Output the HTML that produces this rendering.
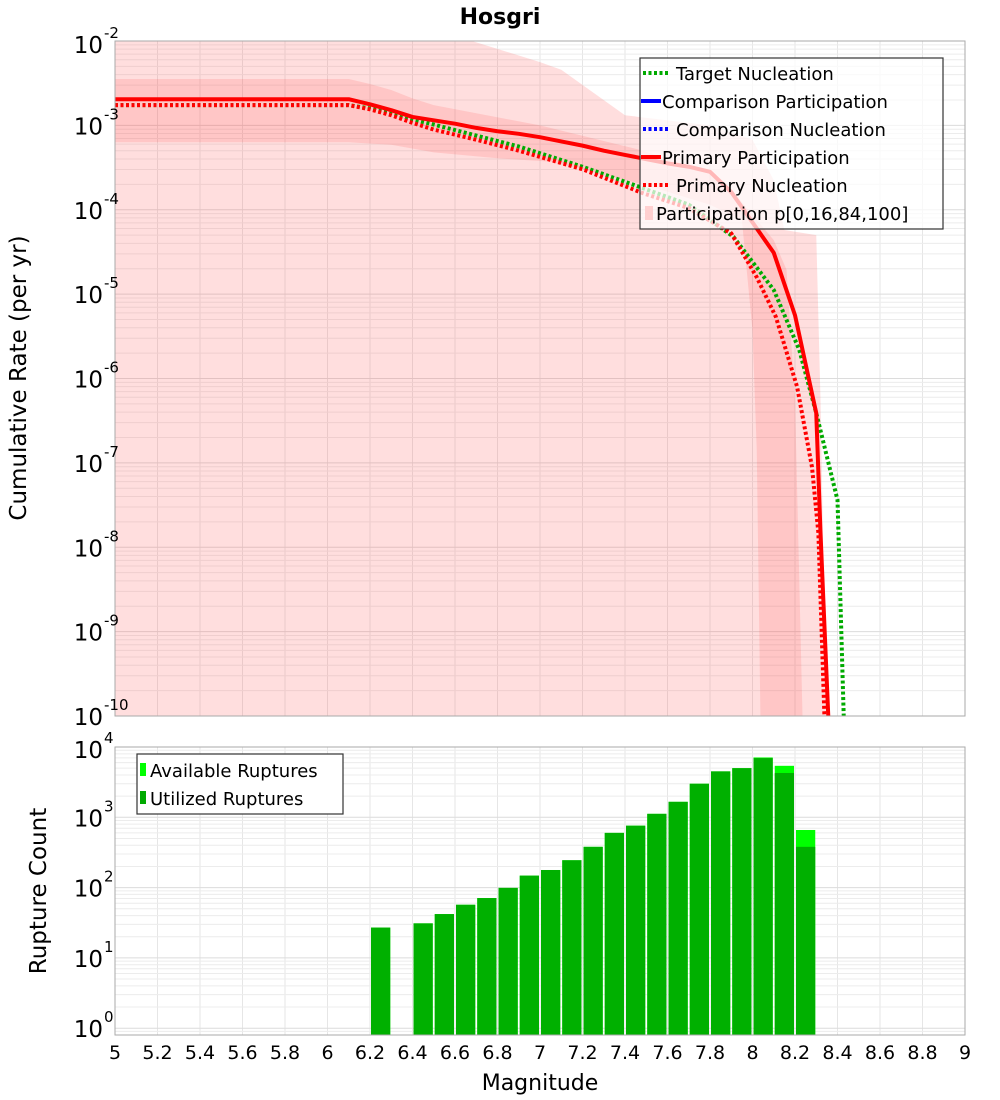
<!DOCTYPE html>
<html><head><meta charset="utf-8"><style>
html,body{margin:0;padding:0;background:#fff;}
svg{display:block;font-family:"DejaVu Sans","Liberation Sans",sans-serif;}
</style></head><body>
<svg id="chart" width="1000" height="1100" viewBox="0 0 1000 1100">
<defs>
<clipPath id="clipTop"><rect x="115" y="41" width="850" height="675"/></clipPath>
<clipPath id="clipBot"><rect x="115" y="747" width="850" height="288"/></clipPath>
</defs>
<text x="500" y="24" text-anchor="middle" font-size="22" font-weight="bold">Hosgri</text>
<rect x="115" y="41" width="850" height="675" fill="#fff"/>
<rect x="115" y="747" width="850" height="288" fill="#fff"/>
<g id="topGrid"></g><g id="topBands" clip-path="url(#clipTop)"></g><g id="topLines" clip-path="url(#clipTop)"></g>
<g id="botGrid"></g><g id="botBars" clip-path="url(#clipBot)"></g>
<rect x="115" y="41" width="850" height="675" fill="none" stroke="#aaa" stroke-width="1"/>
<rect x="115" y="747" width="850" height="288" fill="none" stroke="#aaa" stroke-width="1"/>
<g id="axes"></g>
<text transform="translate(26,378) rotate(-90)" text-anchor="middle" font-size="23">Cumulative Rate (per yr)</text>
<text transform="translate(46,891) rotate(-90)" text-anchor="middle" font-size="23">Rupture Count</text>
<text x="540" y="1090" text-anchor="middle" font-size="22">Magnitude</text>
<g>
<rect x="640" y="58" width="303" height="171" fill="rgba(255,255,255,0.72)" stroke="#333" stroke-width="1.2"/>
<line x1="643" y1="73" x2="669" y2="73" stroke="#00aa00" stroke-width="4" stroke-dasharray="3,2.5"/>
<text x="676" y="80" font-size="18">Target Nucleation</text>
<line x1="641" y1="101" x2="661" y2="101" stroke="#0000ff" stroke-width="4"/>
<text x="662" y="108" font-size="18">Comparison Participation</text>
<line x1="643" y1="129" x2="669" y2="129" stroke="#0000ff" stroke-width="4" stroke-dasharray="3,2.5"/>
<text x="676" y="136" font-size="18">Comparison Nucleation</text>
<line x1="641" y1="157" x2="661" y2="157" stroke="#ff0000" stroke-width="4"/>
<text x="662" y="164" font-size="18">Primary Participation</text>
<line x1="643" y1="185" x2="669" y2="185" stroke="#ff0000" stroke-width="4" stroke-dasharray="3,2.5"/>
<text x="676" y="192" font-size="18">Primary Nucleation</text>
<rect x="645" y="206" width="8" height="14" fill="#ffd0d0"/>
<text x="656" y="220" font-size="18">Participation p[0,16,84,100]</text>
</g>
<g>
<rect x="137" y="754" width="206" height="60" fill="#fff" stroke="#333" stroke-width="1.2"/>
<rect x="140" y="763" width="6" height="13" fill="#00ff00"/>
<text x="150" y="777" font-size="18">Available Ruptures</text>
<rect x="140" y="791" width="6" height="13" fill="#00aa00"/>
<text x="150" y="805" font-size="18">Utilized Ruptures</text>
</g>
</svg>
<script>
// ---- data ----
const partMags = [5.0,6.1,6.2,6.3,6.4,6.5,6.6,6.7,6.8,6.9,7.0,7.1,7.2,7.3,7.4,7.5,7.6,7.7,7.8,7.9,8.0,8.1,8.2,8.3,8.32,8.365];
const partLog  = [-2.69,-2.69,-2.75,-2.82,-2.90,-2.94,-2.98,-3.03,-3.07,-3.10,-3.14,-3.19,-3.24,-3.30,-3.35,-3.40,-3.45,-3.49,-3.55,-3.79,-4.15,-4.51,-5.25,-6.41,-7.83,-10.5];
const nuclMags = [5.0,6.1,6.2,6.3,6.4,6.5,6.7,6.9,7.05,7.2,7.48,7.7,7.9,8.02,8.11,8.21,8.28,8.31,8.345];
const nuclLog  = [-2.76,-2.76,-2.81,-2.88,-2.97,-3.05,-3.17,-3.30,-3.41,-3.52,-3.80,-3.98,-4.28,-4.80,-5.27,-6.10,-7.05,-7.83,-10.5];
const targMags = [5.0,6.1,6.2,6.3,6.4,6.5,6.7,6.9,7.05,7.2,7.48,7.7,7.91,8.1,8.22,8.3,8.4,8.435];
const targLog  = [-2.76,-2.76,-2.80,-2.85,-2.93,-2.99,-3.12,-3.25,-3.37,-3.49,-3.74,-3.94,-4.32,-4.95,-5.66,-6.41,-7.44,-10.5];
const outerMags  = [5.0,6.68,7.0,7.1,7.4,7.8,8.0,8.1,8.15,8.3,8.32,8.35];
const outerHiLog = [-1.5,-2.0,-2.25,-2.34,-2.88,-3.0,-3.17,-3.65,-4.24,-4.30,-6.25,-10.5];
const outerLoLog = [-10.5,-10.5,-10.5,-10.5,-10.5,-10.5,-10.5,-10.5,-10.5,-10.5,-10.5,-10.5];
const innerHiMags = [5.0,6.1,6.2,6.3,6.4,6.5,7.0,7.47,7.8,7.94,8.1,8.16,8.2,8.24];
const innerHiLog  = [-2.45,-2.45,-2.51,-2.58,-2.68,-2.76,-3.0,-3.29,-3.56,-3.88,-4.36,-4.71,-6.25,-10.5];
const innerLoMags = [5.0,6.1,6.3,6.5,6.8,7.05,7.5,7.8,7.9,7.95,8.0,8.02,8.04];
const innerLoLog  = [-3.2,-3.2,-3.23,-3.32,-3.39,-3.43,-3.71,-3.94,-4.06,-4.12,-5.43,-6.85,-10.5];
const binMags   = [6.2,6.4,6.5,6.6,6.7,6.8,6.9,7.0,7.1,7.2,7.3,7.4,7.5,7.6,7.7,7.8,7.9,8.0,8.1,8.2];
const utilized  = [27,31,42,57,71,99,148,178,245,380,600,760,1120,1660,3000,4500,5000,6950,4270,380];
const available = [27,31,42,57,71,99,148,178,245,380,600,760,1120,1660,3000,4500,5000,7100,5400,660];
const xTicks = ["5","5.2","5.4","5.6","5.8","6","6.2","6.4","6.6","6.8","7","7.2","7.4","7.6","7.8","8","8.2","8.4","8.6","8.8","9"];
const rateExps = [-2,-3,-4,-5,-6,-7,-8,-9,-10];
const countExps = [4,3,2,1,0];

// ---- axes ----
const NS="http://www.w3.org/2000/svg";
const X0=115,X1=965;
const xs=m=>X0+(m-5)*(X1-X0)/4;
const yTop=l=>41+(-2-l)*675/8;
const yBot=l=>747+(4-l)*70.3;
function mk(tag,attrs,parent){const e=document.createElementNS(NS,tag);for(const k in attrs)e.setAttribute(k,attrs[k]);parent.appendChild(e);return e;}
const gTG=document.getElementById('topGrid'),gBG=document.getElementById('botGrid');
const gBand=document.getElementById('topBands'),gLine=document.getElementById('topLines');
const gBars=document.getElementById('botBars'),gAx=document.getElementById('axes');

// grids
for(let i=0;i<=20;i++){const x=xs(5+i*0.2);
 let l=mk('line',{x1:x,x2:x,y1:41,y2:716,stroke:'#e6e6e6','stroke-width':1},gTG);
 
 
 let l2=mk('line',{x1:x,x2:x,y1:747,y2:1035,stroke:'#e6e6e6','stroke-width':1},gBG);
 
 }
for(let d=-10;d<-2;d++)for(let k=1;k<10;k++){const y=yTop(d+Math.log10(k));
 let l=mk('line',{x1:115,x2:965,y1:y,y2:y,stroke:k==1?'#dcdcdc':'#ececec','stroke-width':1},gTG);
 
 }
for(let d=-1;d<4;d++)for(let k=1;k<10;k++){const y=yBot(d+Math.log10(k));if(y>1035||y<747)continue;
 let l=mk('line',{x1:115,x2:965,y1:y,y2:y,stroke:k==1?'#dcdcdc':'#ececec','stroke-width':1},gBG);
 
 }

// bands
function bandPath(hm,hl,lm,ll){let p=hm.map((m,i)=>(i?'L':'M')+xs(m)+','+yTop(hl[i]));
 for(let i=lm.length-1;i>=0;i--)p.push('L'+xs(lm[i])+','+yTop(ll[i]));return p.join(' ')+'Z';}
let ob=mk('path',{d:bandPath(outerMags,outerHiLog,outerMags,outerLoLog),fill:'rgba(255,60,60,0.17)'},gBand);


let ib=mk('path',{d:bandPath(innerHiMags,innerHiLog,innerLoMags,innerLoLog),fill:'rgba(255,60,60,0.14)'},gBand);



// lines
function line(ms,ls,color,dash,name){const pts=ms.map((m,i)=>xs(m)+','+yTop(ls[i])).join(' ');
 const a={points:pts,fill:'none',stroke:color,'stroke-width':4,'stroke-linejoin':'round'};if(dash)a['stroke-dasharray']=dash;
 const e=mk('polyline',a,gLine);return e;}
let lt=line(targMags,targLog,'#00aa00','3,2.5');


let lpn=line(nuclMags,nuclLog,'#ff0000','3,2.5');


let lpp=line(partMags,partLog,'#ff0000',null);



// bars
binMags.forEach((m,i)=>{const x=xs(m)+1,w=xs(m+0.1)-xs(m)-2;
 const ya=yBot(Math.log10(available[i])),yu=yBot(Math.log10(utilized[i]));
 let a=mk('rect',{x:x,y:ya,width:w,height:1035-ya,fill:'#00ff00'},gBars);
 
 
 let u=mk('rect',{x:x,y:yu,width:w,height:1035-yu,fill:'#00b000'},gBars);
 
 });

// tick labels
xTicks.forEach(t=>{let e=mk('text',{x:xs(parseFloat(t)),y:1059,'text-anchor':'middle','font-size':19},gAx);e.textContent=t;
 
 });
function powLabel(y,exp,name){const g=mk('text',{x:103,y:y+9,'text-anchor':'end','font-size':23},gAx);g.textContent='10';
 
 
 const s=mk('text',{x:104,y:y-6,'font-size':15},gAx);s.textContent=String(exp);
 
 }
rateExps.forEach(e=>powLabel(yTop(e)+(e==-2?3:0),e,'rate-y-tick-label'));
countExps.forEach(e=>powLabel(yBot(e)+(e==4?2:0),e,'count-y-tick-label'));
</script>
</body></html>
